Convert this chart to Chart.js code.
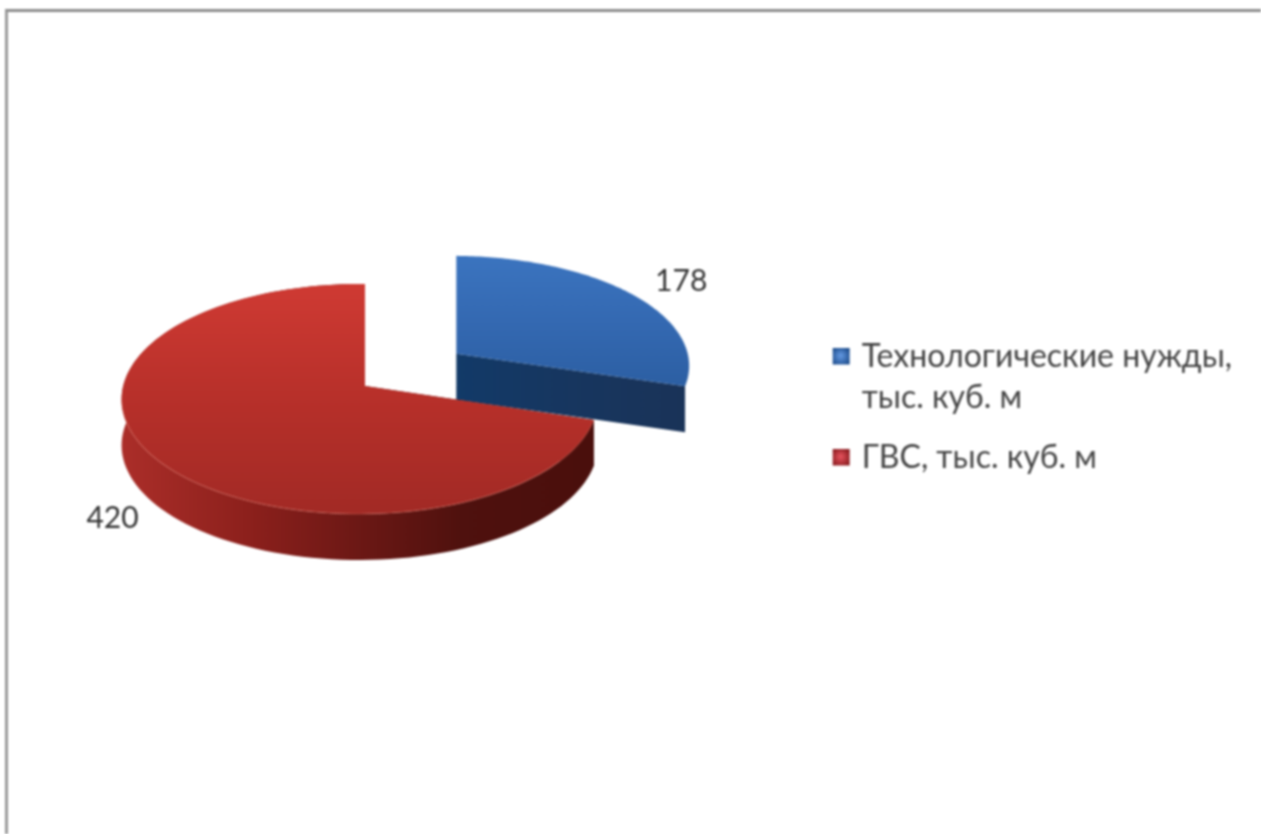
<!DOCTYPE html>
<html>
<head>
<meta charset="utf-8">
<title>Chart</title>
<script src="https://cdn.jsdelivr.net/npm/chart.js@4"></script>
<style>
    html, body { margin: 0; background: #fff; overflow: hidden; }
    #wrap { position: relative; width: 1261px; height: 834px; overflow: hidden; filter: blur(0.8px); }
    #frame { position: absolute; left: 5px; top: 9px; right: -10px; bottom: -10px;
             border-left: 3px solid #9a9a9a; border-top: 3px solid #8c8c8c; }
    canvas { position: absolute; left: 0; top: 0; }
</style>
</head>
<body>
<div id="wrap">
    <div id="frame"></div>
    <canvas id="chart" width="1261" height="834"></canvas>
</div>
<script>
// DATA
const labels = [['Технологические нужды,', 'тыс. куб. м'], ['ГВС, тыс. куб. м']];
const values = [178, 420];
const colors = ['#2f64aa', '#a9282b'];
const explodePercent = [50, 0];

// 3D LOOK
const CENTER_X = 365, CENTER_Y = 386;
const RADIUS_X = 236.5, RADIUS_Y = 113.5;
const PERSPECTIVE_V = 0.113, PERSPECTIVE_U = 0.022;
const DEPTH = 46;
const FONT = 'Lato, "Open Sans", sans-serif';

const shades = [
    {
        top: [[0, '#3b74bf'], [0.5, '#3469b2'], [1, '#2c5fa3']],
        wall: [[0, '#123a68'], [0.5, '#17365f'], [1, '#1a3358']],
        marker: ['#5f94dc', '#1f4f8f'],
        outerWall: false,
        rim: null
    },
    {
        top: [[0, '#cf3a33'], [0.5, '#b7302a'], [1, '#a22a25']],
        wall: [[0, '#ab2e29'], [0.27, '#8c201c'], [0.5, '#6c1815'], [0.72, '#4f110e'], [1, '#4a0f0c']],
        marker: ['#e0505a', '#8c1c20'],
        outerWall: true,
        rim: 'rgba(225,120,105,0.35)'
    }
];

// disc coords (u, v) -> screen
function project(u, v) {
    const w = 1 - PERSPECTIVE_V * v + PERSPECTIVE_U * u;
    return { x: RADIUS_X * u / w, y: RADIUS_Y * v / w, w: w };
}

function gradient(ctx, x0, y0, x1, y1, stops) {
    const g = ctx.createLinearGradient(x0, y0, x1, y1);
    stops.forEach(s => g.addColorStop(s[0], s[1]));
    return g;
}

function fillPoly(ctx, pts, style) {
    ctx.beginPath();
    pts.forEach((p, i) => i ? ctx.lineTo(p.x, p.y) : ctx.moveTo(p.x, p.y));
    ctx.closePath();
    ctx.fillStyle = style;
    ctx.fill();
}

function arcOrigin(arc) {
    const mid = (arc.startAngle + arc.endAngle) / 2;
    const d = (arc.options.offset || 0) / 100;
    const p = project(d * Math.cos(mid), d * Math.sin(mid));
    return { x: CENTER_X + p.x, y: CENTER_Y + p.y, w: p.w };
}

// legend squares with the bright middle. The image is centred on the legend cell,
// so the square sits right of centre to land next to the text
function makeMarker(stops) {
    const c = document.createElement('canvas');
    c.width = 32;
    c.height = 18;
    const g = c.getContext('2d');
    const fill = g.createRadialGradient(22, 8, 1, 22, 9, 10);
    fill.addColorStop(0, stops[0]);
    fill.addColorStop(1, stops[1]);
    g.fillStyle = fill;
    g.fillRect(14, 0, 17, 17);
    return c;
}

const pie3d = {
    id: 'pie3d',
    beforeDatasetsDraw(chart) {
        const ctx = chart.ctx;
        const arcs = chart.getDatasetMeta(0).data;

        // blue sits behind the red slice
        arcs.forEach((arc, i) => {
            const o = arcOrigin(arc);
            const rim = [];
            for (let k = 0; k <= 120; k++) {
                const a = arc.startAngle + (arc.endAngle - arc.startAngle) * k / 120;
                const p = project(Math.cos(a), Math.sin(a));
                rim.push({ x: o.x + p.x, y: o.y + p.y / o.w });
            }
            const down = p => ({ x: p.x, y: p.y + DEPTH });
            const xs = rim.map(p => p.x).concat(o.x);
            const ys = rim.map(p => p.y).concat(o.y);
            const left = Math.min(...xs), right = Math.max(...xs);
            const topY = Math.min(...ys), botY = Math.max(...ys);
            const wall = gradient(ctx, left, 0, right, 0, shades[i].wall);

            // cut faces, then outer wall, then the top
            const first = rim[0], last = rim[rim.length - 1];
            fillPoly(ctx, [o, first, down(first), down(o)], wall);
            fillPoly(ctx, [o, last, down(last), down(o)], wall);
            if (shades[i].outerWall) {
                fillPoly(ctx, rim.concat(rim.slice().reverse().map(down)), wall);
            }
            fillPoly(ctx, [o].concat(rim), gradient(ctx, 0, topY, 0, botY, shades[i].top));

            if (shades[i].rim) {
                ctx.beginPath();
                rim.forEach((p, k) => {
                    if (k === 0) ctx.moveTo(p.x, p.y);
                    else if (rim[k].x < rim[k - 1].x && p.y > CENTER_Y + 10) ctx.lineTo(p.x, p.y);
                    else ctx.moveTo(p.x, p.y);
                });
                ctx.strokeStyle = shades[i].rim;
                ctx.lineWidth = 1.2;
                ctx.stroke();
            }
        });
        return false;
    },
    // beforeDatasetsDraw returning false skips afterDatasetsDraw, so labels go here
    afterDraw(chart) {
        const ctx = chart.ctx;
        chart.getDatasetMeta(0).data.forEach((arc, i) => {
            const o = arcOrigin(arc);
            const mid = (arc.startAngle + arc.endAngle) / 2;
            const u = Math.cos(mid), v = Math.sin(mid);
            const p = project(u, v);
            const x = o.x + p.x + Math.sign(u) * 47 + 2.5;
            const y = o.y + p.y / o.w + Math.sign(v) * 12.5 + (v > 0 ? DEPTH : 0);
            ctx.save();
            ctx.font = '30px ' + FONT;
            ctx.fillStyle = '#333';
            ctx.textAlign = 'center';
            ctx.textBaseline = 'middle';
            ctx.fillText(String(values[i]), x, y);
            ctx.restore();
        });
    }
};

const markers = shades.map(s => makeMarker(s.marker));

new Chart(document.getElementById('chart'), {
    type: 'pie',
    data: {
        labels: labels,
        datasets: [{
            data: values,
            backgroundColor: colors,
            offset: explodePercent,
            borderWidth: 0
        }]
    },
    options: {
        responsive: false,
        animation: false,
        layout: { padding: { right: 19, bottom: 11 } },
        plugins: {
            tooltip: { enabled: false },
            legend: {
                position: 'right',
                labels: {
                    usePointStyle: true,
                    pointStyleWidth: 22,
                    padding: 19,
                    color: '#444',
                    font: { family: FONT, size: 32, lineHeight: '41px' },
                    generateLabels(chart) {
                        return Chart.overrides.pie.plugins.legend.labels.generateLabels(chart)
                            .map((item, i) => ({ ...item, pointStyle: markers[i] }));
                    }
                }
            }
        }
    },
    plugins: [pie3d]
});
</script>
</body>
</html>
